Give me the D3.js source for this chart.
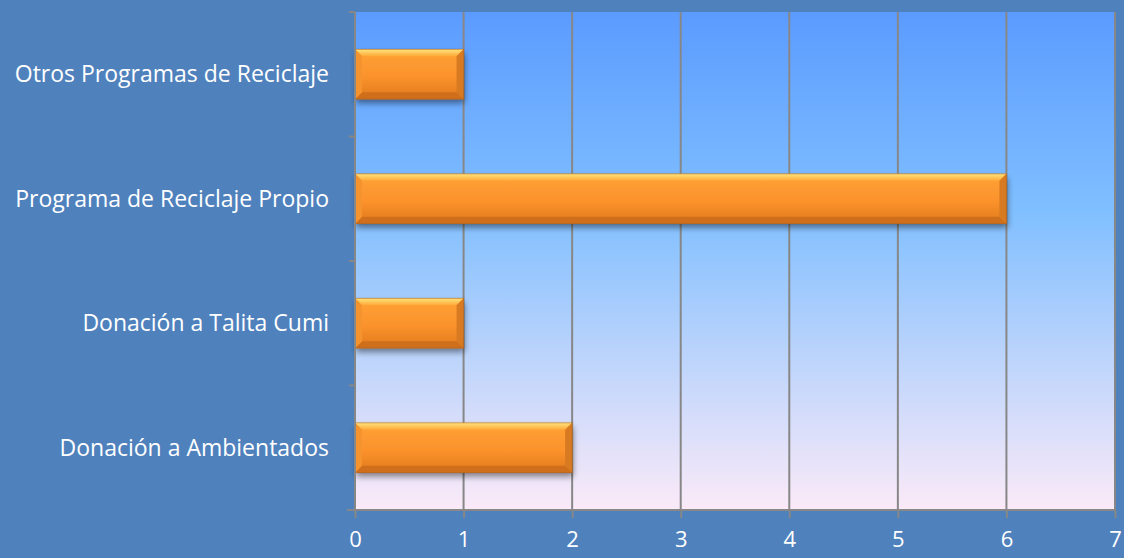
<!DOCTYPE html>
<html>
<head>
<meta charset="utf-8">
<script src="https://cdn.jsdelivr.net/npm/d3@7"></script>
<style>
  html, body { margin: 0; padding: 0; background: #4f81bd; }
  svg { display: block; }
</style>
</head>
<body>
<svg id="chart" width="1124" height="558"></svg>
<script>
// Categories, bottom to top as in the picture
const categories = [
    'Donación a Ambientados',
    'Donación a Talita Cumi',
    'Programa de Reciclaje Propio',
    'Otros Programas de Reciclaje'
];
const values = [2, 1, 6, 1];
const xTicks = [0, 1, 2, 3, 4, 5, 6, 7];

const W = 1124, H = 558;
const margin = { left: 355, right: 9, top: 12, bottom: 48 };
const plotW = W - margin.left - margin.right;
const plotH = H - margin.top - margin.bottom;
const FONT = '"Open Sans", sans-serif';

const svg = d3.select('#chart');
const defs = svg.append('defs');

// plot background gradient
const bg = defs.append('linearGradient').attr('id', 'bg')
    .attr('x1', 0).attr('y1', 0).attr('x2', 0).attr('y2', 1);
bg.append('stop').attr('offset', '0%').attr('stop-color', '#5b9bff');
bg.append('stop').attr('offset', '40%').attr('stop-color', '#80bfff');
bg.append('stop').attr('offset', '100%').attr('stop-color', '#fbeaf8');

// bar body gradient
const barGrad = defs.append('linearGradient').attr('id', 'barGrad')
    .attr('x1', 0).attr('y1', 0).attr('x2', 0).attr('y2', 1);
barGrad.append('stop').attr('offset', '0%').attr('stop-color', '#ffa236');
barGrad.append('stop').attr('offset', '55%').attr('stop-color', '#fb922c');
barGrad.append('stop').attr('offset', '100%').attr('stop-color', '#e07a1c');

const topGrad = defs.append('linearGradient').attr('id', 'topGrad')
    .attr('x1', 0).attr('y1', 0).attr('x2', 0).attr('y2', 1);
topGrad.append('stop').attr('offset', '0%').attr('stop-color', '#ffe47c');
topGrad.append('stop').attr('offset', '100%').attr('stop-color', '#ffa838');

const shadow = defs.append('filter').attr('id', 'shadow')
    .attr('x', '-5%').attr('y', '-20%').attr('width', '115%').attr('height', '160%');
shadow.append('feGaussianBlur').attr('in', 'SourceAlpha').attr('stdDeviation', 3).attr('result', 'b');
shadow.append('feOffset').attr('in', 'b').attr('dx', 1).attr('dy', 4).attr('result', 'o');
shadow.append('feComponentTransfer').attr('in', 'o').attr('result', 'oa')
    .append('feFuncA').attr('type', 'linear').attr('slope', 0.45);
const merge = shadow.append('feMerge');
merge.append('feMergeNode').attr('in', 'oa');
merge.append('feMergeNode').attr('in', 'SourceGraphic');

const g = svg.append('g').attr('transform', `translate(${margin.left},${margin.top})`);

const x = d3.scaleLinear().domain([0, 7]).range([0, plotW]);
const y = d3.scaleBand().domain(categories).range([plotH, 0]).paddingInner(0.6).paddingOuter(0.3);
const yEdges = d3.scaleBand().domain(categories).range([plotH, 0]);

g.append('rect').attr('width', plotW).attr('height', plotH).attr('fill', 'url(#bg)');

// vertical gridlines
g.selectAll('.grid').data(xTicks.slice(1)).enter().append('line')
    .attr('x1', d => x(d)).attr('x2', d => x(d))
    .attr('y1', 0).attr('y2', plotH)
    .attr('stroke', '#878787').attr('stroke-width', 2);

// bars
const bev = 7;
const bars = g.selectAll('.bar').data(categories).enter().append('g')
    .attr('class', 'bar')
    .attr('transform', d => `translate(0,${y(d)})`);

bars.append('rect')
    .attr('width', (d, i) => x(values[i]))
    .attr('height', y.bandwidth())
    .attr('fill', 'url(#barGrad)')
    .attr('filter', 'url(#shadow)');

// top bevel
bars.append('polygon')
    .attr('points', (d, i) => {
        const w = x(values[i]);
        return `0,0 ${w},0 ${w - bev},${bev} ${bev},${bev}`;
    })
    .attr('fill', 'url(#topGrad)');
// bottom bevel
bars.append('polygon')
    .attr('points', (d, i) => {
        const w = x(values[i]), h = y.bandwidth();
        return `0,${h} ${w},${h} ${w - bev},${h - bev} ${bev},${h - bev}`;
    })
    .attr('fill', '#cf6f1c');
// left bevel
bars.append('polygon')
    .attr('points', (d, i) => {
        const h = y.bandwidth();
        return `0,0 ${bev},${bev} ${bev},${h - bev} 0,${h}`;
    })
    .attr('fill', '#f5942e');
// right bevel
bars.append('polygon')
    .attr('points', (d, i) => {
        const w = x(values[i]), h = y.bandwidth();
        return `${w},0 ${w},${h} ${w - bev},${h - bev} ${w - bev},${bev}`;
    })
    .attr('fill', '#d87a22');
bars.append('rect')
    .attr('width', (d, i) => x(values[i]))
    .attr('height', y.bandwidth())
    .attr('fill', 'none')
    .attr('stroke', '#a85a18').attr('stroke-opacity', 0.5).attr('stroke-width', 1);

// axes
const xAxis = g.append('g').attr('transform', `translate(0,${plotH})`)
    .call(d3.axisBottom(x).tickValues(xTicks).tickSize(8).tickPadding(13).tickFormat(d3.format('d')));
xAxis.select('.domain').attr('stroke', '#878787').attr('stroke-width', 2).attr('d', `M-8,0H${plotW}`);
xAxis.selectAll('.tick line').attr('stroke', '#878787').attr('stroke-width', 2);
xAxis.selectAll('.tick text').attr('fill', '#ffffff')
    .style('font-family', FONT).style('font-size', '22px');

// left axis: line plus ticks at band boundaries
g.append('line').attr('x1', 0).attr('x2', 0).attr('y1', 0).attr('y2', plotH)
    .attr('stroke', '#878787').attr('stroke-width', 2);
const edges = categories.map(c => yEdges(c)).concat([plotH]);
g.selectAll('.ytick').data(edges).enter().append('line')
    .attr('x1', -6).attr('x2', 0).attr('y1', d => d).attr('y2', d => d)
    .attr('stroke', '#878787').attr('stroke-width', 2);

g.selectAll('.ylabel').data(categories).enter().append('text')
    .attr('x', -26)
    .attr('y', d => y(d) + y.bandwidth() / 2)
    .attr('dy', '0.35em')
    .attr('text-anchor', 'end')
    .attr('fill', '#ffffff')
    .style('font-family', FONT)
    .style('font-size', '23px')
    .text(d => d);
</script>
</body>
</html>
